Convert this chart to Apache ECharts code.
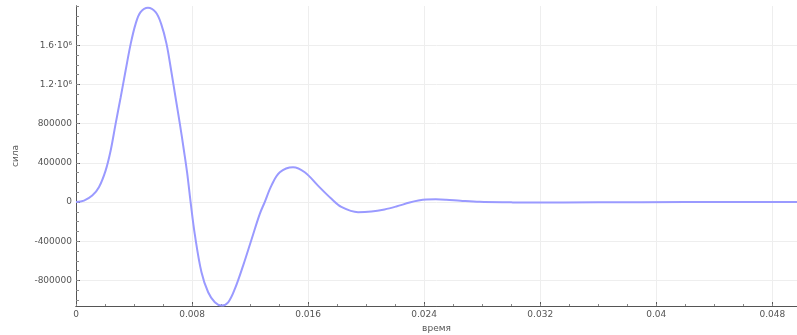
<!DOCTYPE html>
<html>
<head>
<meta charset="utf-8">
<script src="https://cdn.jsdelivr.net/npm/echarts@6/dist/echarts.min.js"></script>
<style>html,body{margin:0;padding:0;background:#fff}#c{width:797px;height:335px}</style>
</head>
<body>
<div id="c"></div>
<script>
// time (s)
const times = [0, 0.00055, 0.00112, 0.00158, 0.00204, 0.00239, 0.00273, 0.00308, 0.00342, 0.00377,
  0.00411, 0.00445, 0.00496, 0.00549, 0.00587, 0.00624, 0.00656, 0.00686, 0.00716, 0.00744,
  0.00766, 0.0079, 0.00819, 0.00865, 0.00911, 0.00957, 0.01003, 0.01049, 0.01095, 0.01152,
  0.01211, 0.01267, 0.01301, 0.01347, 0.01405, 0.01496, 0.01577, 0.01668, 0.01761, 0.01829,
  0.01944, 0.02036, 0.02127, 0.02208, 0.023, 0.0236, 0.02415, 0.0248, 0.02552, 0.0265,
  0.02782, 0.030, 0.03126, 0.036, 0.042, 0.0497];
// force values
const forces = [0, 15000, 66000, 151000, 321000, 526000, 798000, 1069000, 1342000, 1614000,
  1818000, 1937000, 1982000, 1937000, 1818000, 1614000, 1342000, 1069000, 798000, 526000,
  300000, 0, -330000, -716000, -920000, -1022000, -1056000, -1022000, -886000, -648000,
  -376000, -120000, 0, 168000, 304000, 355000, 304000, 168000, 33000, -50000,
  -104000, -97000, -75000, -45000, -5000, 15000, 26000, 28000, 24000, 14000,
  3000, -3000, -5000, -2000, 0, 0];
const xTickValues = [0, 0.008, 0.016, 0.024, 0.032, 0.04, 0.048];
const xTickLabels = ['0', '0.008', '0.016', '0.024', '0.032', '0.04', '0.048'];
const yTickValues = [-800000, -400000, 0, 400000, 800000, 1200000, 1600000];
const yTickLabels = ['-800000', '-400000', '0', '400000', '800000', '1.2·10⁶', '1.6·10⁶'];
const xMinorValues = [];
for (let i = 0; i <= 24; i++) xMinorValues.push(+(i * 0.002).toFixed(4));
const yMinorValues = [];
for (let i = -10; i <= 20; i++) yMinorValues.push(i * 100000);
const xName = 'время', yName = 'сила';
const xMin = 0, xMax = 0.0497, yMin = -1060000, yMax = 2000000;

const font = 'DejaVu Sans';
const labelStyle = {fontFamily: font, fontSize: 9, color: '#555'};
const chart = echarts.init(document.getElementById('c'), null, {renderer: 'canvas'});
chart.setOption({
  animation: false,
  grid: {left: 76, right: 0, top: 6, bottom: 29, containLabel: false, outerBoundsMode: 'none'},
  xAxis: [{
    type: 'value', min: xMin, max: xMax, position: 'bottom',
    name: xName, nameLocation: 'middle', nameGap: 14,
    nameTextStyle: {fontFamily: font, fontSize: 9, color: '#555'},
    axisLine: {onZero: false, lineStyle: {color: '#555', width: 1}},
    axisTick: {show: true, inside: true, length: 4, customValues: xTickValues, lineStyle: {color: '#555'}},
    axisLabel: Object.assign({customValues: xTickValues, margin: 4,
      formatter: v => { const i = xTickValues.findIndex(t => Math.abs(t - v) < 1e-9); return i >= 0 ? xTickLabels[i] : ''; }}, labelStyle),
    splitLine: {show: true, lineStyle: {color: '#eeeeee', width: 1}}
  }, {
    type: 'value', min: xMin, max: xMax, position: 'bottom', gridIndex: 0,
    axisLine: {show: true, onZero: false, lineStyle: {color: '#555', width: 1}},
    axisLabel: {show: false}, splitLine: {show: false},
    axisTick: {show: true, inside: true, length: 2, customValues: xMinorValues, lineStyle: {color: '#888'}}
  }],
  yAxis: [{
    type: 'value', min: yMin, max: yMax, position: 'left',
    name: yName, nameLocation: 'middle', nameGap: 56, nameRotate: 90,
    nameTextStyle: {fontFamily: font, fontSize: 9, color: '#555'},
    axisLine: {show: true, onZero: false, lineStyle: {color: '#555', width: 1}},
    axisTick: {show: true, inside: true, length: 4, customValues: yTickValues, lineStyle: {color: '#555'}},
    axisLabel: Object.assign({customValues: yTickValues, margin: 4,
      formatter: v => { const i = yTickValues.indexOf(v); return i >= 0 ? yTickLabels[i] : ''; }}, labelStyle),
    splitLine: {show: true, lineStyle: {color: '#eeeeee', width: 1}}
  }, {
    type: 'value', min: yMin, max: yMax, position: 'left', offset: 0,
    axisLine: {show: true, onZero: false, lineStyle: {color: '#555', width: 1}},
    axisLabel: {show: false}, splitLine: {show: false},
    axisTick: {show: true, inside: true, length: 3, customValues: yMinorValues, lineStyle: {color: '#888'}}
  }],
  series: [{
    type: 'line', xAxisIndex: 0, yAxisIndex: 0,
    data: times.map((t, i) => [t, forces[i]]),
    smooth: 0.35, showSymbol: false, symbol: 'none',
    lineStyle: {color: '#9a9aff', width: 2}
  }]
});
</script>
</body>
</html>
